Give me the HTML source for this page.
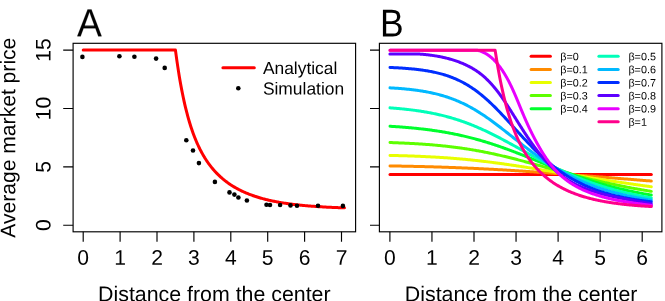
<!DOCTYPE html>
<html><head><meta charset="utf-8"><title>Figure</title>
<style>
html,body{margin:0;padding:0;background:#fff;}
body{width:665px;height:301px;overflow:hidden;font-family:"Liberation Sans",sans-serif;}
svg{display:block;font-family:"Liberation Sans",sans-serif;}
.ax{stroke:#000;stroke-width:1.15;fill:none;stroke-linecap:butt}
.cv path{fill:none;stroke-width:3.0;stroke-linecap:round;stroke-linejoin:round}
.lg line{stroke-width:3.0;stroke-linecap:round}
text{fill:#000}
</style></head><body>
<svg width="665" height="301" viewBox="0 0 665 301">
<rect x="0" y="0" width="665" height="301" fill="#fff"/>
<g id="panelA">
<rect class="ax" x="73.1" y="43.3" width="282.5" height="188.5"/>
<path class="ax" d="M83.20,231.8V241.7M120.10,231.8V241.7M157.00,231.8V241.7M193.90,231.8V241.7M230.80,231.8V241.7M267.70,231.8V241.7M304.60,231.8V241.7M341.50,231.8V241.7M73.1,225.20H63.2M73.1,166.83H63.2M73.1,108.47H63.2M73.1,50.10H63.2"/>
<g class="cv"><path d="M83.20,50.10 L175.45,50.10 L176.22,55.90 L176.99,61.41 L177.77,66.65 L178.54,71.64 L179.31,76.40 L180.08,80.92 L180.85,85.24 L181.62,89.36 L182.40,93.29 L183.17,97.04 L183.94,100.62 L184.71,104.05 L185.48,107.32 L186.25,110.45 L187.03,113.45 L187.80,116.33 L188.57,119.08 L189.34,121.72 L190.11,124.25 L190.88,126.68 L191.66,129.02 L192.43,131.26 L193.20,133.41 L193.97,135.49 L194.74,137.48 L195.51,139.40 L196.29,141.25 L197.06,143.04 L197.83,144.76 L198.60,146.42 L199.37,148.02 L200.14,149.56 L200.92,151.06 L201.69,152.50 L202.46,153.90 L203.23,155.25 L204.00,156.55 L204.77,157.82 L205.55,159.04 L206.32,160.23 L207.09,161.38 L207.86,162.50 L208.63,163.58 L209.40,164.63 L210.18,165.65 L210.95,166.65 L211.72,167.61 L212.49,168.54 L213.26,169.45 L214.03,170.34 L214.81,171.20 L215.58,172.04 L216.35,172.85 L217.12,173.64 L217.89,174.42 L218.67,175.17 L219.44,175.90 L220.21,176.62 L220.98,177.31 L221.75,177.99 L222.52,178.66 L223.30,179.30 L224.07,179.93 L224.84,180.55 L225.61,181.15 L226.38,181.73 L227.15,182.31 L227.93,182.87 L228.70,183.41 L229.47,183.94 L230.24,184.47 L231.01,184.97 L231.78,185.47 L232.56,185.96 L233.33,186.43 L234.10,186.90 L234.87,187.35 L235.64,187.80 L236.41,188.23 L237.19,188.66 L237.96,189.07 L238.73,189.48 L239.50,189.88 L240.27,190.27 L241.04,190.65 L241.82,191.02 L242.59,191.38 L243.36,191.74 L244.13,192.09 L244.90,192.43 L245.67,192.77 L246.45,193.10 L247.22,193.42 L247.99,193.73 L248.76,194.04 L249.53,194.34 L250.30,194.64 L251.08,194.93 L251.85,195.21 L252.62,195.49 L253.39,195.76 L254.16,196.02 L254.93,196.29 L255.71,196.54 L256.48,196.79 L257.25,197.04 L258.02,197.28 L258.79,197.51 L259.57,197.74 L260.34,197.97 L261.11,198.19 L261.88,198.41 L262.65,198.62 L263.42,198.83 L264.20,199.03 L264.97,199.23 L265.74,199.43 L266.51,199.62 L267.28,199.81 L268.05,199.99 L268.83,200.17 L269.60,200.35 L270.37,200.52 L271.14,200.69 L271.91,200.86 L272.68,201.02 L273.46,201.18 L274.23,201.34 L275.00,201.49 L275.77,201.64 L276.54,201.79 L277.31,201.94 L278.09,202.08 L278.86,202.22 L279.63,202.36 L280.40,202.49 L281.17,202.62 L281.94,202.75 L282.72,202.87 L283.49,203.00 L284.26,203.12 L285.03,203.24 L285.80,203.35 L286.57,203.47 L287.35,203.58 L288.12,203.69 L288.89,203.80 L289.66,203.90 L290.43,204.01 L291.20,204.11 L291.98,204.21 L292.75,204.30 L293.52,204.40 L294.29,204.49 L295.06,204.58 L295.83,204.67 L296.61,204.76 L297.38,204.85 L298.15,204.93 L298.92,205.01 L299.69,205.10 L300.47,205.18 L301.24,205.25 L302.01,205.33 L302.78,205.41 L303.55,205.48 L304.32,205.55 L305.10,205.62 L305.87,205.69 L306.64,205.76 L307.41,205.83 L308.18,205.89 L308.95,205.96 L309.73,206.02 L310.50,206.08 L311.27,206.14 L312.04,206.20 L312.81,206.26 L313.58,206.31 L314.36,206.37 L315.13,206.43 L315.90,206.48 L316.67,206.53 L317.44,206.58 L318.21,206.63 L318.99,206.68 L319.76,206.73 L320.53,206.78 L321.30,206.83 L322.07,206.87 L322.84,206.92 L323.62,206.96 L324.39,207.00 L325.16,207.05 L325.93,207.09 L326.70,207.13 L327.47,207.17 L328.25,207.21 L329.02,207.25 L329.79,207.28 L330.56,207.32 L331.33,207.36 L332.10,207.39 L332.88,207.43 L333.65,207.46 L334.42,207.49 L335.19,207.53 L335.96,207.56 L336.74,207.59 L337.51,207.62 L338.28,207.65 L339.05,207.68 L339.82,207.71 L340.59,207.74 L341.37,207.76 L342.14,207.79 L342.91,207.82 L343.68,207.85 L344.45,207.87" stroke="#FF0000"/></g>
<g fill="#000"><circle cx="82.4" cy="56.9" r="2.3"/><circle cx="119.4" cy="56.3" r="2.3"/><circle cx="134.4" cy="56.7" r="2.3"/><circle cx="156.1" cy="58.6" r="2.3"/><circle cx="164.7" cy="67.9" r="2.3"/><circle cx="186.3" cy="140.2" r="2.3"/><circle cx="193" cy="150.5" r="2.3"/><circle cx="198.9" cy="163.1" r="2.3"/><circle cx="214.9" cy="181.9" r="2.3"/><circle cx="229.5" cy="192.4" r="2.3"/><circle cx="234.4" cy="194.6" r="2.3"/><circle cx="238.4" cy="197.5" r="2.3"/><circle cx="246.9" cy="200.5" r="2.3"/><circle cx="266.5" cy="204.7" r="2.3"/><circle cx="270" cy="205" r="2.3"/><circle cx="280.1" cy="205" r="2.3"/><circle cx="290.5" cy="205.4" r="2.3"/><circle cx="297" cy="205.8" r="2.3"/><circle cx="318" cy="205.8" r="2.3"/><circle cx="342.9" cy="205.9" r="2.3"/></g>
<g class="lg"><line x1="222.9" y1="67.8" x2="254.3" y2="67.8" stroke="#FF0000"/></g>
<circle cx="238.3" cy="88.3" r="2.3" fill="#000"/>
</g>
<g id="panelB">
<rect class="ax" x="379.4" y="43.3" width="282.5" height="188.5"/>
<path class="ax" d="M389.90,231.8V241.7M431.95,231.8V241.7M474.00,231.8V241.7M516.05,231.8V241.7M558.10,231.8V241.7M600.15,231.8V241.7M642.20,231.8V241.7M379.4,225.20H370M379.4,166.83H370M379.4,108.47H370M379.4,50.10H370"/>
<g class="cv"><path d="M390.00,174.50 L651.30,174.50" stroke="#FF0000"/>
<path d="M390.00,165.94 L391.00,165.95 L392.00,165.97 L393.00,165.98 L394.00,166.00 L395.01,166.02 L396.01,166.03 L397.01,166.05 L398.01,166.07 L399.01,166.09 L400.01,166.10 L401.01,166.12 L402.01,166.14 L403.01,166.16 L404.02,166.18 L405.02,166.20 L406.02,166.22 L407.02,166.24 L408.02,166.26 L409.02,166.28 L410.02,166.30 L411.02,166.32 L412.03,166.34 L413.03,166.36 L414.03,166.38 L415.03,166.41 L416.03,166.43 L417.03,166.45 L418.03,166.48 L419.03,166.50 L420.03,166.52 L421.04,166.55 L422.04,166.57 L423.04,166.60 L424.04,166.62 L425.04,166.65 L426.04,166.67 L427.04,166.70 L428.04,166.73 L429.04,166.75 L430.05,166.78 L431.05,166.81 L432.05,166.84 L433.05,166.87 L434.05,166.90 L435.05,166.93 L436.05,166.96 L437.05,166.99 L438.06,167.02 L439.06,167.05 L440.06,167.08 L441.06,167.11 L442.06,167.14 L443.06,167.18 L444.06,167.21 L445.06,167.24 L446.06,167.28 L447.07,167.31 L448.07,167.35 L449.07,167.38 L450.07,167.42 L451.07,167.45 L452.07,167.49 L453.07,167.53 L454.07,167.56 L455.07,167.60 L456.08,167.64 L457.08,167.68 L458.08,167.72 L459.08,167.76 L460.08,167.79 L461.08,167.84 L462.08,167.88 L463.08,167.92 L464.09,167.96 L465.09,168.00 L466.09,168.04 L467.09,168.09 L468.09,168.13 L469.09,168.17 L470.09,168.22 L471.09,168.26 L472.09,168.31 L473.10,168.35 L474.10,168.40 L475.10,168.45 L476.10,168.49 L477.10,168.54 L478.10,168.59 L479.10,168.64 L480.10,168.68 L481.10,168.73 L482.11,168.78 L483.11,168.83 L484.11,168.88 L485.11,168.94 L486.11,168.99 L487.11,169.04 L488.11,169.09 L489.11,169.14 L490.11,169.20 L491.12,169.25 L492.12,169.30 L493.12,169.36 L494.12,169.41 L495.12,169.47 L496.12,169.52 L497.12,169.58 L498.12,169.64 L499.13,169.69 L500.13,169.75 L501.13,169.81 L502.13,169.87 L503.13,169.93 L504.13,169.99 L505.13,170.05 L506.13,170.10 L507.13,170.17 L508.14,170.23 L509.14,170.29 L510.14,170.35 L511.14,170.41 L512.14,170.47 L513.14,170.53 L514.14,170.60 L515.14,170.66 L516.14,170.72 L517.15,170.79 L518.15,170.85 L519.15,170.92 L520.15,170.98 L521.15,171.05 L522.15,171.11 L523.15,171.18 L524.15,171.25 L525.16,171.31 L526.16,171.38 L527.16,171.45 L528.16,171.52 L529.16,171.58 L530.16,171.65 L531.16,171.72 L532.16,171.79 L533.16,171.86 L534.17,171.93 L535.17,172.00 L536.17,172.07 L537.17,172.14 L538.17,172.21 L539.17,172.28 L540.17,172.35 L541.17,172.43 L542.17,172.50 L543.18,172.57 L544.18,172.64 L545.18,172.71 L546.18,172.79 L547.18,172.86 L548.18,172.93 L549.18,173.01 L550.18,173.08 L551.19,173.15 L552.19,173.23 L553.19,173.30 L554.19,173.38 L555.19,173.45 L556.19,173.53 L557.19,173.60 L558.19,173.68 L559.19,173.75 L560.20,173.83 L561.20,173.91 L562.20,173.98 L563.20,174.06 L564.20,174.14 L565.20,174.21 L566.20,174.29 L567.20,174.37 L568.20,174.44 L569.21,174.52 L570.21,174.60 L571.21,174.67 L572.21,174.75 L573.21,174.83 L574.21,174.91 L575.21,174.99 L576.21,175.06 L577.21,175.14 L578.22,175.22 L579.22,175.30 L580.22,175.38 L581.22,175.46 L582.22,175.54 L583.22,175.61 L584.22,175.69 L585.22,175.77 L586.23,175.85 L587.23,175.93 L588.23,176.01 L589.23,176.09 L590.23,176.17 L591.23,176.25 L592.23,176.33 L593.23,176.41 L594.23,176.49 L595.24,176.57 L596.24,176.65 L597.24,176.73 L598.24,176.81 L599.24,176.89 L600.24,176.96 L601.24,177.04 L602.24,177.12 L603.24,177.20 L604.25,177.28 L605.25,177.36 L606.25,177.44 L607.25,177.52 L608.25,177.60 L609.25,177.68 L610.25,177.76 L611.25,177.84 L612.26,177.92 L613.26,178.00 L614.26,178.08 L615.26,178.16 L616.26,178.24 L617.26,178.32 L618.26,178.40 L619.26,178.48 L620.26,178.56 L621.27,178.64 L622.27,178.72 L623.27,178.80 L624.27,178.88 L625.27,178.96 L626.27,179.04 L627.27,179.12 L628.27,179.20 L629.27,179.28 L630.28,179.36 L631.28,179.44 L632.28,179.52 L633.28,179.60 L634.28,179.68 L635.28,179.76 L636.28,179.84 L637.28,179.92 L638.29,180.00 L639.29,180.08 L640.29,180.16 L641.29,180.23 L642.29,180.31 L643.29,180.39 L644.29,180.47 L645.29,180.55 L646.29,180.63 L647.30,180.71 L648.30,180.79 L649.30,180.86 L650.30,180.94 L651.30,181.02" stroke="#FF8B00"/>
<path d="M390.00,155.41 L391.00,155.43 L392.00,155.45 L393.00,155.47 L394.00,155.50 L395.01,155.52 L396.01,155.55 L397.01,155.57 L398.01,155.60 L399.01,155.63 L400.01,155.65 L401.01,155.68 L402.01,155.71 L403.01,155.74 L404.02,155.77 L405.02,155.80 L406.02,155.83 L407.02,155.87 L408.02,155.90 L409.02,155.93 L410.02,155.97 L411.02,156.00 L412.03,156.04 L413.03,156.07 L414.03,156.11 L415.03,156.15 L416.03,156.19 L417.03,156.23 L418.03,156.27 L419.03,156.31 L420.03,156.35 L421.04,156.40 L422.04,156.44 L423.04,156.48 L424.04,156.53 L425.04,156.58 L426.04,156.63 L427.04,156.67 L428.04,156.72 L429.04,156.77 L430.05,156.83 L431.05,156.88 L432.05,156.93 L433.05,156.99 L434.05,157.04 L435.05,157.10 L436.05,157.16 L437.05,157.22 L438.06,157.28 L439.06,157.34 L440.06,157.40 L441.06,157.47 L442.06,157.53 L443.06,157.60 L444.06,157.66 L445.06,157.73 L446.06,157.80 L447.07,157.87 L448.07,157.94 L449.07,158.02 L450.07,158.09 L451.07,158.17 L452.07,158.24 L453.07,158.32 L454.07,158.40 L455.07,158.48 L456.08,158.56 L457.08,158.65 L458.08,158.73 L459.08,158.82 L460.08,158.91 L461.08,158.99 L462.08,159.08 L463.08,159.17 L464.09,159.27 L465.09,159.36 L466.09,159.46 L467.09,159.55 L468.09,159.65 L469.09,159.75 L470.09,159.85 L471.09,159.95 L472.09,160.05 L473.10,160.16 L474.10,160.26 L475.10,160.37 L476.10,160.48 L477.10,160.59 L478.10,160.70 L479.10,160.81 L480.10,160.92 L481.10,161.04 L482.11,161.15 L483.11,161.27 L484.11,161.39 L485.11,161.51 L486.11,161.63 L487.11,161.75 L488.11,161.87 L489.11,162.00 L490.11,162.12 L491.12,162.25 L492.12,162.38 L493.12,162.51 L494.12,162.64 L495.12,162.77 L496.12,162.90 L497.12,163.03 L498.12,163.17 L499.13,163.30 L500.13,163.44 L501.13,163.58 L502.13,163.72 L503.13,163.86 L504.13,164.00 L505.13,164.14 L506.13,164.28 L507.13,164.42 L508.14,164.57 L509.14,164.71 L510.14,164.86 L511.14,165.01 L512.14,165.15 L513.14,165.30 L514.14,165.45 L515.14,165.60 L516.14,165.75 L517.15,165.90 L518.15,166.06 L519.15,166.21 L520.15,166.36 L521.15,166.52 L522.15,166.67 L523.15,166.83 L524.15,166.98 L525.16,167.14 L526.16,167.30 L527.16,167.45 L528.16,167.61 L529.16,167.77 L530.16,167.93 L531.16,168.09 L532.16,168.25 L533.16,168.41 L534.17,168.57 L535.17,168.73 L536.17,168.89 L537.17,169.06 L538.17,169.22 L539.17,169.38 L540.17,169.54 L541.17,169.71 L542.17,169.87 L543.18,170.03 L544.18,170.20 L545.18,170.36 L546.18,170.53 L547.18,170.69 L548.18,170.85 L549.18,171.02 L550.18,171.18 L551.19,171.35 L552.19,171.51 L553.19,171.68 L554.19,171.84 L555.19,172.01 L556.19,172.17 L557.19,172.34 L558.19,172.50 L559.19,172.67 L560.20,172.83 L561.20,173.00 L562.20,173.16 L563.20,173.33 L564.20,173.49 L565.20,173.66 L566.20,173.82 L567.20,173.99 L568.20,174.15 L569.21,174.32 L570.21,174.48 L571.21,174.65 L572.21,174.81 L573.21,174.97 L574.21,175.14 L575.21,175.30 L576.21,175.46 L577.21,175.63 L578.22,175.79 L579.22,175.95 L580.22,176.11 L581.22,176.28 L582.22,176.44 L583.22,176.60 L584.22,176.76 L585.22,176.92 L586.23,177.08 L587.23,177.24 L588.23,177.40 L589.23,177.56 L590.23,177.72 L591.23,177.88 L592.23,178.04 L593.23,178.20 L594.23,178.36 L595.24,178.52 L596.24,178.68 L597.24,178.83 L598.24,178.99 L599.24,179.15 L600.24,179.30 L601.24,179.46 L602.24,179.61 L603.24,179.77 L604.25,179.92 L605.25,180.08 L606.25,180.23 L607.25,180.39 L608.25,180.54 L609.25,180.69 L610.25,180.85 L611.25,181.00 L612.26,181.15 L613.26,181.30 L614.26,181.45 L615.26,181.60 L616.26,181.75 L617.26,181.90 L618.26,182.05 L619.26,182.20 L620.26,182.35 L621.27,182.50 L622.27,182.65 L623.27,182.80 L624.27,182.94 L625.27,183.09 L626.27,183.24 L627.27,183.38 L628.27,183.53 L629.27,183.67 L630.28,183.82 L631.28,183.96 L632.28,184.10 L633.28,184.25 L634.28,184.39 L635.28,184.53 L636.28,184.67 L637.28,184.81 L638.29,184.96 L639.29,185.10 L640.29,185.24 L641.29,185.38 L642.29,185.52 L643.29,185.65 L644.29,185.79 L645.29,185.93 L646.29,186.07 L647.30,186.21 L648.30,186.34 L649.30,186.48 L650.30,186.62 L651.30,186.75" stroke="#E8FF00"/>
<path d="M390.00,142.54 L391.00,142.58 L392.00,142.61 L393.00,142.65 L394.00,142.68 L395.01,142.72 L396.01,142.76 L397.01,142.80 L398.01,142.84 L399.01,142.88 L400.01,142.92 L401.01,142.96 L402.01,143.01 L403.01,143.05 L404.02,143.10 L405.02,143.14 L406.02,143.19 L407.02,143.24 L408.02,143.29 L409.02,143.34 L410.02,143.39 L411.02,143.44 L412.03,143.50 L413.03,143.55 L414.03,143.61 L415.03,143.67 L416.03,143.73 L417.03,143.79 L418.03,143.85 L419.03,143.91 L420.03,143.98 L421.04,144.04 L422.04,144.11 L423.04,144.18 L424.04,144.25 L425.04,144.32 L426.04,144.40 L427.04,144.47 L428.04,144.55 L429.04,144.62 L430.05,144.70 L431.05,144.79 L432.05,144.87 L433.05,144.95 L434.05,145.04 L435.05,145.13 L436.05,145.22 L437.05,145.31 L438.06,145.40 L439.06,145.50 L440.06,145.59 L441.06,145.69 L442.06,145.79 L443.06,145.89 L444.06,146.00 L445.06,146.10 L446.06,146.21 L447.07,146.32 L448.07,146.43 L449.07,146.55 L450.07,146.67 L451.07,146.78 L452.07,146.90 L453.07,147.03 L454.07,147.15 L455.07,147.28 L456.08,147.41 L457.08,147.54 L458.08,147.67 L459.08,147.81 L460.08,147.95 L461.08,148.09 L462.08,148.23 L463.08,148.38 L464.09,148.52 L465.09,148.67 L466.09,148.83 L467.09,148.98 L468.09,149.14 L469.09,149.30 L470.09,149.46 L471.09,149.62 L472.09,149.79 L473.10,149.96 L474.10,150.13 L475.10,150.30 L476.10,150.48 L477.10,150.65 L478.10,150.83 L479.10,151.02 L480.10,151.20 L481.10,151.39 L482.11,151.58 L483.11,151.77 L484.11,151.97 L485.11,152.16 L486.11,152.36 L487.11,152.56 L488.11,152.77 L489.11,152.97 L490.11,153.18 L491.12,153.39 L492.12,153.61 L493.12,153.82 L494.12,154.04 L495.12,154.26 L496.12,154.48 L497.12,154.70 L498.12,154.93 L499.13,155.16 L500.13,155.39 L501.13,155.62 L502.13,155.85 L503.13,156.09 L504.13,156.33 L505.13,156.57 L506.13,156.81 L507.13,157.05 L508.14,157.30 L509.14,157.54 L510.14,157.79 L511.14,158.04 L512.14,158.29 L513.14,158.55 L514.14,158.80 L515.14,159.06 L516.14,159.31 L517.15,159.57 L518.15,159.83 L519.15,160.10 L520.15,160.36 L521.15,160.62 L522.15,160.89 L523.15,161.15 L524.15,161.42 L525.16,161.69 L526.16,161.96 L527.16,162.23 L528.16,162.50 L529.16,162.77 L530.16,163.04 L531.16,163.32 L532.16,163.59 L533.16,163.86 L534.17,164.14 L535.17,164.41 L536.17,164.69 L537.17,164.97 L538.17,165.24 L539.17,165.52 L540.17,165.80 L541.17,166.07 L542.17,166.35 L543.18,166.63 L544.18,166.91 L545.18,167.19 L546.18,167.46 L547.18,167.74 L548.18,168.02 L549.18,168.30 L550.18,168.57 L551.19,168.85 L552.19,169.13 L553.19,169.40 L554.19,169.68 L555.19,169.96 L556.19,170.23 L557.19,170.51 L558.19,170.78 L559.19,171.06 L560.20,171.33 L561.20,171.60 L562.20,171.87 L563.20,172.14 L564.20,172.42 L565.20,172.69 L566.20,172.95 L567.20,173.22 L568.20,173.49 L569.21,173.76 L570.21,174.02 L571.21,174.29 L572.21,174.55 L573.21,174.81 L574.21,175.08 L575.21,175.34 L576.21,175.60 L577.21,175.86 L578.22,176.11 L579.22,176.37 L580.22,176.63 L581.22,176.88 L582.22,177.13 L583.22,177.39 L584.22,177.64 L585.22,177.89 L586.23,178.13 L587.23,178.38 L588.23,178.63 L589.23,178.87 L590.23,179.12 L591.23,179.36 L592.23,179.60 L593.23,179.84 L594.23,180.08 L595.24,180.31 L596.24,180.55 L597.24,180.78 L598.24,181.02 L599.24,181.25 L600.24,181.48 L601.24,181.71 L602.24,181.93 L603.24,182.16 L604.25,182.38 L605.25,182.61 L606.25,182.83 L607.25,183.05 L608.25,183.27 L609.25,183.48 L610.25,183.70 L611.25,183.92 L612.26,184.13 L613.26,184.34 L614.26,184.55 L615.26,184.76 L616.26,184.97 L617.26,185.17 L618.26,185.38 L619.26,185.58 L620.26,185.78 L621.27,185.98 L622.27,186.18 L623.27,186.38 L624.27,186.58 L625.27,186.77 L626.27,186.97 L627.27,187.16 L628.27,187.35 L629.27,187.54 L630.28,187.73 L631.28,187.91 L632.28,188.10 L633.28,188.28 L634.28,188.46 L635.28,188.64 L636.28,188.82 L637.28,189.00 L638.29,189.18 L639.29,189.35 L640.29,189.53 L641.29,189.70 L642.29,189.87 L643.29,190.04 L644.29,190.21 L645.29,190.38 L646.29,190.55 L647.30,190.71 L648.30,190.88 L649.30,191.04 L650.30,191.20 L651.30,191.36" stroke="#5DFF00"/>
<path d="M390.00,126.25 L391.00,126.31 L392.00,126.38 L393.00,126.44 L394.00,126.51 L395.01,126.57 L396.01,126.64 L397.01,126.71 L398.01,126.78 L399.01,126.85 L400.01,126.93 L401.01,127.00 L402.01,127.08 L403.01,127.16 L404.02,127.24 L405.02,127.32 L406.02,127.40 L407.02,127.49 L408.02,127.57 L409.02,127.66 L410.02,127.75 L411.02,127.84 L412.03,127.94 L413.03,128.03 L414.03,128.13 L415.03,128.23 L416.03,128.33 L417.03,128.43 L418.03,128.54 L419.03,128.65 L420.03,128.76 L421.04,128.87 L422.04,128.98 L423.04,129.10 L424.04,129.22 L425.04,129.34 L426.04,129.46 L427.04,129.59 L428.04,129.71 L429.04,129.84 L430.05,129.98 L431.05,130.11 L432.05,130.25 L433.05,130.39 L434.05,130.53 L435.05,130.67 L436.05,130.82 L437.05,130.97 L438.06,131.13 L439.06,131.28 L440.06,131.44 L441.06,131.60 L442.06,131.76 L443.06,131.93 L444.06,132.10 L445.06,132.27 L446.06,132.45 L447.07,132.63 L448.07,132.81 L449.07,132.99 L450.07,133.18 L451.07,133.37 L452.07,133.56 L453.07,133.76 L454.07,133.96 L455.07,134.16 L456.08,134.37 L457.08,134.58 L458.08,134.79 L459.08,135.01 L460.08,135.23 L461.08,135.45 L462.08,135.68 L463.08,135.90 L464.09,136.14 L465.09,136.37 L466.09,136.61 L467.09,136.85 L468.09,137.10 L469.09,137.35 L470.09,137.60 L471.09,137.86 L472.09,138.12 L473.10,138.38 L474.10,138.64 L475.10,138.91 L476.10,139.19 L477.10,139.46 L478.10,139.74 L479.10,140.02 L480.10,140.31 L481.10,140.60 L482.11,140.89 L483.11,141.19 L484.11,141.49 L485.11,141.79 L486.11,142.10 L487.11,142.40 L488.11,142.72 L489.11,143.03 L490.11,143.35 L491.12,143.67 L492.12,144.00 L493.12,144.32 L494.12,144.66 L495.12,144.99 L496.12,145.33 L497.12,145.67 L498.12,146.01 L499.13,146.35 L500.13,146.70 L501.13,147.05 L502.13,147.40 L503.13,147.76 L504.13,148.12 L505.13,148.48 L506.13,148.84 L507.13,149.21 L508.14,149.58 L509.14,149.95 L510.14,150.32 L511.14,150.69 L512.14,151.07 L513.14,151.45 L514.14,151.83 L515.14,152.21 L516.14,152.59 L517.15,152.98 L518.15,153.37 L519.15,153.75 L520.15,154.14 L521.15,154.54 L522.15,154.93 L523.15,155.32 L524.15,155.72 L525.16,156.11 L526.16,156.51 L527.16,156.91 L528.16,157.31 L529.16,157.71 L530.16,158.11 L531.16,158.51 L532.16,158.91 L533.16,159.31 L534.17,159.71 L535.17,160.11 L536.17,160.52 L537.17,160.92 L538.17,161.32 L539.17,161.72 L540.17,162.13 L541.17,162.53 L542.17,162.93 L543.18,163.33 L544.18,163.73 L545.18,164.13 L546.18,164.53 L547.18,164.93 L548.18,165.33 L549.18,165.73 L550.18,166.12 L551.19,166.52 L552.19,166.91 L553.19,167.31 L554.19,167.70 L555.19,168.09 L556.19,168.48 L557.19,168.87 L558.19,169.26 L559.19,169.64 L560.20,170.02 L561.20,170.41 L562.20,170.79 L563.20,171.17 L564.20,171.54 L565.20,171.92 L566.20,172.29 L567.20,172.66 L568.20,173.03 L569.21,173.40 L570.21,173.77 L571.21,174.13 L572.21,174.49 L573.21,174.85 L574.21,175.21 L575.21,175.56 L576.21,175.91 L577.21,176.26 L578.22,176.61 L579.22,176.96 L580.22,177.30 L581.22,177.64 L582.22,177.98 L583.22,178.32 L584.22,178.65 L585.22,178.98 L586.23,179.31 L587.23,179.63 L588.23,179.96 L589.23,180.28 L590.23,180.59 L591.23,180.91 L592.23,181.22 L593.23,181.53 L594.23,181.84 L595.24,182.14 L596.24,182.44 L597.24,182.74 L598.24,183.04 L599.24,183.33 L600.24,183.63 L601.24,183.91 L602.24,184.20 L603.24,184.48 L604.25,184.76 L605.25,185.04 L606.25,185.32 L607.25,185.59 L608.25,185.86 L609.25,186.12 L610.25,186.39 L611.25,186.65 L612.26,186.91 L613.26,187.17 L614.26,187.42 L615.26,187.67 L616.26,187.92 L617.26,188.16 L618.26,188.41 L619.26,188.65 L620.26,188.89 L621.27,189.12 L622.27,189.35 L623.27,189.58 L624.27,189.81 L625.27,190.04 L626.27,190.26 L627.27,190.48 L628.27,190.70 L629.27,190.91 L630.28,191.13 L631.28,191.34 L632.28,191.55 L633.28,191.75 L634.28,191.96 L635.28,192.16 L636.28,192.35 L637.28,192.55 L638.29,192.75 L639.29,192.94 L640.29,193.13 L641.29,193.31 L642.29,193.50 L643.29,193.68 L644.29,193.86 L645.29,194.04 L646.29,194.22 L647.30,194.39 L648.30,194.56 L649.30,194.73 L650.30,194.90 L651.30,195.07" stroke="#00FF2E"/>
<path d="M390.00,107.85 L391.00,107.92 L392.00,108.00 L393.00,108.08 L394.00,108.16 L395.01,108.24 L396.01,108.32 L397.01,108.41 L398.01,108.50 L399.01,108.59 L400.01,108.68 L401.01,108.78 L402.01,108.87 L403.01,108.97 L404.02,109.08 L405.02,109.18 L406.02,109.29 L407.02,109.40 L408.02,109.51 L409.02,109.63 L410.02,109.75 L411.02,109.87 L412.03,109.99 L413.03,110.12 L414.03,110.25 L415.03,110.38 L416.03,110.52 L417.03,110.66 L418.03,110.80 L419.03,110.95 L420.03,111.10 L421.04,111.25 L422.04,111.41 L423.04,111.57 L424.04,111.74 L425.04,111.90 L426.04,112.08 L427.04,112.25 L428.04,112.43 L429.04,112.62 L430.05,112.80 L431.05,113.00 L432.05,113.19 L433.05,113.39 L434.05,113.60 L435.05,113.81 L436.05,114.02 L437.05,114.24 L438.06,114.46 L439.06,114.69 L440.06,114.92 L441.06,115.16 L442.06,115.40 L443.06,115.65 L444.06,115.90 L445.06,116.15 L446.06,116.41 L447.07,116.68 L448.07,116.95 L449.07,117.23 L450.07,117.51 L451.07,117.80 L452.07,118.09 L453.07,118.39 L454.07,118.69 L455.07,119.00 L456.08,119.31 L457.08,119.63 L458.08,119.95 L459.08,120.28 L460.08,120.62 L461.08,120.96 L462.08,121.30 L463.08,121.65 L464.09,122.01 L465.09,122.37 L466.09,122.74 L467.09,123.11 L468.09,123.49 L469.09,123.88 L470.09,124.27 L471.09,124.66 L472.09,125.06 L473.10,125.47 L474.10,125.88 L475.10,126.29 L476.10,126.71 L477.10,127.14 L478.10,127.57 L479.10,128.01 L480.10,128.45 L481.10,128.90 L482.11,129.35 L483.11,129.80 L484.11,130.26 L485.11,130.73 L486.11,131.20 L487.11,131.67 L488.11,132.15 L489.11,132.64 L490.11,133.12 L491.12,133.61 L492.12,134.11 L493.12,134.61 L494.12,135.11 L495.12,135.62 L496.12,136.13 L497.12,136.64 L498.12,137.16 L499.13,137.68 L500.13,138.20 L501.13,138.72 L502.13,139.25 L503.13,139.78 L504.13,140.32 L505.13,140.85 L506.13,141.39 L507.13,141.93 L508.14,142.47 L509.14,143.02 L510.14,143.56 L511.14,144.11 L512.14,144.65 L513.14,145.20 L514.14,145.75 L515.14,146.30 L516.14,146.86 L517.15,147.41 L518.15,147.96 L519.15,148.51 L520.15,149.07 L521.15,149.62 L522.15,150.17 L523.15,150.73 L524.15,151.28 L525.16,151.83 L526.16,152.38 L527.16,152.94 L528.16,153.49 L529.16,154.03 L530.16,154.58 L531.16,155.13 L532.16,155.67 L533.16,156.22 L534.17,156.76 L535.17,157.30 L536.17,157.84 L537.17,158.38 L538.17,158.91 L539.17,159.44 L540.17,159.97 L541.17,160.50 L542.17,161.03 L543.18,161.55 L544.18,162.07 L545.18,162.59 L546.18,163.11 L547.18,163.62 L548.18,164.13 L549.18,164.63 L550.18,165.14 L551.19,165.64 L552.19,166.14 L553.19,166.63 L554.19,167.12 L555.19,167.61 L556.19,168.09 L557.19,168.58 L558.19,169.05 L559.19,169.53 L560.20,170.00 L561.20,170.46 L562.20,170.93 L563.20,171.39 L564.20,171.84 L565.20,172.30 L566.20,172.74 L567.20,173.19 L568.20,173.63 L569.21,174.07 L570.21,174.50 L571.21,174.93 L572.21,175.36 L573.21,175.78 L574.21,176.20 L575.21,176.61 L576.21,177.02 L577.21,177.43 L578.22,177.83 L579.22,178.23 L580.22,178.63 L581.22,179.02 L582.22,179.41 L583.22,179.79 L584.22,180.17 L585.22,180.54 L586.23,180.92 L587.23,181.28 L588.23,181.65 L589.23,182.01 L590.23,182.37 L591.23,182.72 L592.23,183.07 L593.23,183.42 L594.23,183.76 L595.24,184.10 L596.24,184.43 L597.24,184.76 L598.24,185.09 L599.24,185.41 L600.24,185.73 L601.24,186.05 L602.24,186.36 L603.24,186.67 L604.25,186.98 L605.25,187.28 L606.25,187.58 L607.25,187.87 L608.25,188.17 L609.25,188.46 L610.25,188.74 L611.25,189.02 L612.26,189.30 L613.26,189.58 L614.26,189.85 L615.26,190.12 L616.26,190.39 L617.26,190.65 L618.26,190.91 L619.26,191.17 L620.26,191.42 L621.27,191.67 L622.27,191.92 L623.27,192.16 L624.27,192.40 L625.27,192.64 L626.27,192.88 L627.27,193.11 L628.27,193.34 L629.27,193.57 L630.28,193.79 L631.28,194.02 L632.28,194.24 L633.28,194.45 L634.28,194.67 L635.28,194.88 L636.28,195.09 L637.28,195.29 L638.29,195.49 L639.29,195.70 L640.29,195.89 L641.29,196.09 L642.29,196.28 L643.29,196.47 L644.29,196.66 L645.29,196.85 L646.29,197.03 L647.30,197.21 L648.30,197.39 L649.30,197.57 L650.30,197.75 L651.30,197.92" stroke="#00FFB9"/>
<path d="M390.00,87.83 L391.00,87.89 L392.00,87.95 L393.00,88.01 L394.00,88.08 L395.01,88.14 L396.01,88.21 L397.01,88.28 L398.01,88.36 L399.01,88.43 L400.01,88.51 L401.01,88.60 L402.01,88.68 L403.01,88.77 L404.02,88.86 L405.02,88.95 L406.02,89.05 L407.02,89.14 L408.02,89.25 L409.02,89.35 L410.02,89.46 L411.02,89.58 L412.03,89.69 L413.03,89.81 L414.03,89.94 L415.03,90.06 L416.03,90.20 L417.03,90.33 L418.03,90.47 L419.03,90.62 L420.03,90.77 L421.04,90.92 L422.04,91.08 L423.04,91.25 L424.04,91.42 L425.04,91.59 L426.04,91.77 L427.04,91.96 L428.04,92.15 L429.04,92.35 L430.05,92.55 L431.05,92.76 L432.05,92.97 L433.05,93.19 L434.05,93.42 L435.05,93.66 L436.05,93.90 L437.05,94.15 L438.06,94.40 L439.06,94.66 L440.06,94.93 L441.06,95.21 L442.06,95.50 L443.06,95.79 L444.06,96.09 L445.06,96.40 L446.06,96.72 L447.07,97.04 L448.07,97.38 L449.07,97.72 L450.07,98.07 L451.07,98.43 L452.07,98.80 L453.07,99.17 L454.07,99.56 L455.07,99.96 L456.08,100.36 L457.08,100.78 L458.08,101.20 L459.08,101.64 L460.08,102.08 L461.08,102.53 L462.08,103.00 L463.08,103.47 L464.09,103.95 L465.09,104.44 L466.09,104.95 L467.09,105.46 L468.09,105.98 L469.09,106.51 L470.09,107.05 L471.09,107.60 L472.09,108.17 L473.10,108.74 L474.10,109.32 L475.10,109.91 L476.10,110.51 L477.10,111.11 L478.10,111.73 L479.10,112.36 L480.10,112.99 L481.10,113.64 L482.11,114.29 L483.11,114.95 L484.11,115.62 L485.11,116.30 L486.11,116.99 L487.11,117.68 L488.11,118.38 L489.11,119.09 L490.11,119.80 L491.12,120.52 L492.12,121.25 L493.12,121.98 L494.12,122.72 L495.12,123.47 L496.12,124.22 L497.12,124.97 L498.12,125.73 L499.13,126.50 L500.13,127.27 L501.13,128.04 L502.13,128.82 L503.13,129.59 L504.13,130.38 L505.13,131.16 L506.13,131.95 L507.13,132.74 L508.14,133.53 L509.14,134.32 L510.14,135.11 L511.14,135.90 L512.14,136.69 L513.14,137.49 L514.14,138.28 L515.14,139.07 L516.14,139.86 L517.15,140.65 L518.15,141.44 L519.15,142.23 L520.15,143.01 L521.15,143.79 L522.15,144.57 L523.15,145.35 L524.15,146.12 L525.16,146.90 L526.16,147.66 L527.16,148.43 L528.16,149.19 L529.16,149.94 L530.16,150.69 L531.16,151.44 L532.16,152.18 L533.16,152.92 L534.17,153.65 L535.17,154.38 L536.17,155.11 L537.17,155.82 L538.17,156.53 L539.17,157.24 L540.17,157.94 L541.17,158.63 L542.17,159.32 L543.18,160.00 L544.18,160.68 L545.18,161.35 L546.18,162.01 L547.18,162.67 L548.18,163.32 L549.18,163.97 L550.18,164.60 L551.19,165.24 L552.19,165.86 L553.19,166.48 L554.19,167.09 L555.19,167.69 L556.19,168.29 L557.19,168.88 L558.19,169.47 L559.19,170.05 L560.20,170.62 L561.20,171.18 L562.20,171.74 L563.20,172.29 L564.20,172.84 L565.20,173.37 L566.20,173.91 L567.20,174.43 L568.20,174.95 L569.21,175.46 L570.21,175.96 L571.21,176.46 L572.21,176.96 L573.21,177.44 L574.21,177.92 L575.21,178.39 L576.21,178.86 L577.21,179.32 L578.22,179.78 L579.22,180.22 L580.22,180.67 L581.22,181.10 L582.22,181.53 L583.22,181.96 L584.22,182.38 L585.22,182.79 L586.23,183.20 L587.23,183.60 L588.23,183.99 L589.23,184.38 L590.23,184.77 L591.23,185.15 L592.23,185.52 L593.23,185.89 L594.23,186.25 L595.24,186.61 L596.24,186.96 L597.24,187.31 L598.24,187.66 L599.24,187.99 L600.24,188.33 L601.24,188.65 L602.24,188.98 L603.24,189.30 L604.25,189.61 L605.25,189.92 L606.25,190.22 L607.25,190.52 L608.25,190.82 L609.25,191.11 L610.25,191.40 L611.25,191.68 L612.26,191.96 L613.26,192.23 L614.26,192.50 L615.26,192.77 L616.26,193.03 L617.26,193.29 L618.26,193.55 L619.26,193.80 L620.26,194.04 L621.27,194.29 L622.27,194.53 L623.27,194.76 L624.27,194.99 L625.27,195.22 L626.27,195.45 L627.27,195.67 L628.27,195.89 L629.27,196.10 L630.28,196.32 L631.28,196.53 L632.28,196.73 L633.28,196.93 L634.28,197.13 L635.28,197.33 L636.28,197.52 L637.28,197.71 L638.29,197.90 L639.29,198.08 L640.29,198.27 L641.29,198.45 L642.29,198.62 L643.29,198.80 L644.29,198.97 L645.29,199.13 L646.29,199.30 L647.30,199.46 L648.30,199.62 L649.30,199.78 L650.30,199.94 L651.30,200.09" stroke="#00B9FF"/>
<path d="M390.00,67.46 L391.00,67.50 L392.00,67.55 L393.00,67.60 L394.00,67.64 L395.01,67.69 L396.01,67.74 L397.01,67.80 L398.01,67.85 L399.01,67.91 L400.01,67.97 L401.01,68.03 L402.01,68.10 L403.01,68.17 L404.02,68.24 L405.02,68.31 L406.02,68.39 L407.02,68.46 L408.02,68.55 L409.02,68.63 L410.02,68.72 L411.02,68.81 L412.03,68.90 L413.03,69.00 L414.03,69.10 L415.03,69.21 L416.03,69.32 L417.03,69.43 L418.03,69.55 L419.03,69.68 L420.03,69.80 L421.04,69.94 L422.04,70.07 L423.04,70.21 L424.04,70.36 L425.04,70.52 L426.04,70.67 L427.04,70.84 L428.04,71.01 L429.04,71.19 L430.05,71.37 L431.05,71.56 L432.05,71.76 L433.05,71.96 L434.05,72.17 L435.05,72.39 L436.05,72.61 L437.05,72.85 L438.06,73.09 L439.06,73.34 L440.06,73.60 L441.06,73.87 L442.06,74.15 L443.06,74.43 L444.06,74.73 L445.06,75.03 L446.06,75.35 L447.07,75.68 L448.07,76.02 L449.07,76.36 L450.07,76.72 L451.07,77.09 L452.07,77.48 L453.07,77.87 L454.07,78.28 L455.07,78.70 L456.08,79.13 L457.08,79.58 L458.08,80.04 L459.08,80.51 L460.08,80.99 L461.08,81.49 L462.08,82.01 L463.08,82.54 L464.09,83.08 L465.09,83.64 L466.09,84.21 L467.09,84.80 L468.09,85.40 L469.09,86.02 L470.09,86.65 L471.09,87.30 L472.09,87.96 L473.10,88.64 L474.10,89.34 L475.10,90.05 L476.10,90.78 L477.10,91.52 L478.10,92.28 L479.10,93.06 L480.10,93.85 L481.10,94.65 L482.11,95.47 L483.11,96.31 L484.11,97.16 L485.11,98.02 L486.11,98.90 L487.11,99.80 L488.11,100.71 L489.11,101.63 L490.11,102.56 L491.12,103.51 L492.12,104.47 L493.12,105.45 L494.12,106.43 L495.12,107.43 L496.12,108.43 L497.12,109.45 L498.12,110.48 L499.13,111.51 L500.13,112.56 L501.13,113.61 L502.13,114.67 L503.13,115.74 L504.13,116.81 L505.13,117.89 L506.13,118.98 L507.13,120.07 L508.14,121.16 L509.14,122.26 L510.14,123.36 L511.14,124.46 L512.14,125.56 L513.14,126.67 L514.14,127.77 L515.14,128.88 L516.14,129.98 L517.15,131.08 L518.15,132.18 L519.15,133.28 L520.15,134.38 L521.15,135.47 L522.15,136.55 L523.15,137.64 L524.15,138.71 L525.16,139.78 L526.16,140.85 L527.16,141.91 L528.16,142.96 L529.16,144.00 L530.16,145.04 L531.16,146.07 L532.16,147.09 L533.16,148.10 L534.17,149.10 L535.17,150.09 L536.17,151.07 L537.17,152.04 L538.17,153.01 L539.17,153.96 L540.17,154.90 L541.17,155.83 L542.17,156.75 L543.18,157.65 L544.18,158.55 L545.18,159.44 L546.18,160.31 L547.18,161.17 L548.18,162.02 L549.18,162.86 L550.18,163.69 L551.19,164.50 L552.19,165.31 L553.19,166.10 L554.19,166.88 L555.19,167.64 L556.19,168.40 L557.19,169.14 L558.19,169.88 L559.19,170.60 L560.20,171.31 L561.20,172.00 L562.20,172.69 L563.20,173.36 L564.20,174.03 L565.20,174.68 L566.20,175.32 L567.20,175.95 L568.20,176.57 L569.21,177.18 L570.21,177.77 L571.21,178.36 L572.21,178.94 L573.21,179.50 L574.21,180.06 L575.21,180.60 L576.21,181.14 L577.21,181.66 L578.22,182.18 L579.22,182.69 L580.22,183.18 L581.22,183.67 L582.22,184.15 L583.22,184.62 L584.22,185.08 L585.22,185.53 L586.23,185.97 L587.23,186.40 L588.23,186.83 L589.23,187.25 L590.23,187.66 L591.23,188.06 L592.23,188.45 L593.23,188.84 L594.23,189.21 L595.24,189.58 L596.24,189.95 L597.24,190.30 L598.24,190.65 L599.24,190.99 L600.24,191.33 L601.24,191.66 L602.24,191.98 L603.24,192.30 L604.25,192.60 L605.25,192.91 L606.25,193.20 L607.25,193.49 L608.25,193.78 L609.25,194.06 L610.25,194.33 L611.25,194.60 L612.26,194.86 L613.26,195.12 L614.26,195.37 L615.26,195.62 L616.26,195.86 L617.26,196.09 L618.26,196.33 L619.26,196.55 L620.26,196.78 L621.27,196.99 L622.27,197.21 L623.27,197.41 L624.27,197.62 L625.27,197.82 L626.27,198.02 L627.27,198.21 L628.27,198.40 L629.27,198.58 L630.28,198.76 L631.28,198.94 L632.28,199.11 L633.28,199.28 L634.28,199.44 L635.28,199.61 L636.28,199.77 L637.28,199.92 L638.29,200.07 L639.29,200.22 L640.29,200.37 L641.29,200.51 L642.29,200.65 L643.29,200.79 L644.29,200.92 L645.29,201.06 L646.29,201.18 L647.30,201.31 L648.30,201.43 L649.30,201.55 L650.30,201.67 L651.30,201.79" stroke="#002EFF"/>
<path d="M389.89,54.03 L390.66,54.03 L391.44,54.03 L392.22,54.03 L393.01,54.03 L393.79,54.03 L394.58,54.03 L395.37,54.03 L396.16,54.03 L396.96,54.03 L397.75,54.03 L398.55,54.03 L399.35,54.03 L400.15,54.03 L400.95,54.03 L401.76,54.03 L402.56,54.03 L403.37,54.03 L404.18,54.03 L404.99,54.03 L405.80,54.03 L406.62,54.03 L407.43,54.03 L408.25,54.03 L409.06,54.03 L409.88,54.03 L410.70,54.03 L411.52,54.03 L412.34,54.03 L413.16,54.03 L413.98,54.03 L414.80,54.03 L415.62,54.03 L416.44,54.03 L417.27,54.03 L418.09,54.03 L418.91,54.03 L419.73,54.08 L420.56,54.14 L421.38,54.21 L422.20,54.27 L423.03,54.34 L423.85,54.42 L424.67,54.50 L425.49,54.58 L426.32,54.66 L427.14,54.75 L427.96,54.85 L428.78,54.94 L429.60,55.05 L430.42,55.15 L431.24,55.26 L432.05,55.37 L432.87,55.49 L433.68,55.61 L434.50,55.74 L435.31,55.87 L436.12,56.00 L436.93,56.14 L437.74,56.29 L438.55,56.43 L439.36,56.59 L440.16,56.74 L440.96,56.90 L441.77,57.07 L442.57,57.24 L443.36,57.42 L444.16,57.59 L444.95,57.78 L445.75,57.97 L446.54,58.16 L447.32,58.36 L448.11,58.57 L448.89,58.78 L449.67,58.99 L450.45,59.21 L451.23,59.43 L452.00,59.66 L452.77,59.90 L453.54,60.14 L454.31,60.38 L455.07,60.63 L455.83,60.89 L456.59,61.15 L457.34,61.41 L458.09,61.68 L458.84,61.96 L459.58,62.24 L460.33,62.53 L461.06,62.82 L461.80,63.12 L462.53,63.43 L463.26,63.74 L463.98,64.06 L464.70,64.38 L465.42,64.71 L466.13,65.04 L466.84,65.38 L467.54,65.73 L468.24,66.08 L468.94,66.44 L469.63,66.80 L470.32,67.17 L471.00,67.55 L471.68,67.93 L472.36,68.32 L473.03,68.71 L473.70,69.11 L474.36,69.52 L475.02,69.94 L475.67,70.36 L476.32,70.78 L476.96,71.22 L477.60,71.66 L478.23,72.10 L478.86,72.56 L479.48,73.02 L480.09,73.48 L480.71,73.96 L481.31,74.44 L481.92,74.92 L482.51,75.41 L483.10,75.91 L483.69,76.42 L484.27,76.93 L484.85,77.45 L485.42,77.97 L485.99,78.50 L486.56,79.03 L487.12,79.57 L487.67,80.12 L488.23,80.67 L488.77,81.23 L489.32,81.79 L489.86,82.35 L490.39,82.93 L490.92,83.50 L491.45,84.08 L491.98,84.67 L492.50,85.26 L493.01,85.86 L493.53,86.45 L494.04,87.06 L494.55,87.67 L495.05,88.28 L495.55,88.90 L496.05,89.52 L496.54,90.14 L497.04,90.77 L497.53,91.40 L498.01,92.03 L498.50,92.67 L498.98,93.32 L499.46,93.96 L499.93,94.61 L500.41,95.26 L500.88,95.91 L501.35,96.57 L501.81,97.23 L502.28,97.89 L502.74,98.56 L503.20,99.23 L503.66,99.90 L504.12,100.57 L504.58,101.25 L505.03,101.92 L505.48,102.60 L505.93,103.28 L506.38,103.96 L506.83,104.65 L507.28,105.33 L507.73,106.02 L508.17,106.71 L508.61,107.40 L509.06,108.09 L509.50,108.79 L509.94,109.48 L510.38,110.17 L510.82,110.87 L511.26,111.57 L511.70,112.26 L512.14,112.96 L512.58,113.66 L513.02,114.36 L513.45,115.05 L513.89,115.75 L514.33,116.45 L514.77,117.15 L515.20,117.85 L515.64,118.55 L516.08,119.25 L516.52,119.95 L516.95,120.65 L517.39,121.35 L517.83,122.04 L518.27,122.74 L518.71,123.44 L519.15,124.14 L519.59,124.83 L520.03,125.53 L520.47,126.22 L520.91,126.92 L521.35,127.61 L521.79,128.31 L522.24,129.00 L522.68,129.69 L523.13,130.38 L523.57,131.07 L524.02,131.76 L524.47,132.45 L524.91,133.13 L525.36,133.82 L525.81,134.50 L526.26,135.19 L526.72,135.87 L527.17,136.55 L527.62,137.23 L528.08,137.90 L528.53,138.58 L528.99,139.25 L529.45,139.93 L529.91,140.60 L530.38,141.26 L530.84,141.93 L531.30,142.60 L531.77,143.26 L532.24,143.92 L532.71,144.58 L533.18,145.24 L533.65,145.89 L534.13,146.54 L534.61,147.20 L535.08,147.84 L535.56,148.49 L536.05,149.13 L536.53,149.77 L537.02,150.41 L537.51,151.05 L538.00,151.68 L538.49,152.31 L538.98,152.94 L539.48,153.56 L539.98,154.19 L540.48,154.80 L540.99,155.42 L541.49,156.03 L542.00,156.64 L542.51,157.25 L543.02,157.85 L543.54,158.46 L544.06,159.05 L544.58,159.65 L545.10,160.24 L545.63,160.82 L546.16,161.41 L546.69,161.99 L547.23,162.56 L547.77,163.14 L548.31,163.71 L548.85,164.27 L549.40,164.83 L549.95,165.39 L550.50,165.95 L551.06,166.50 L551.61,167.04 L552.18,167.58 L552.74,168.12 L553.31,168.65 L553.88,169.18 L554.46,169.71 L555.04,170.23 L555.62,170.74 L556.21,171.26 L556.80,171.76 L557.39,172.27 L557.99,172.76 L558.59,173.26 L559.19,173.75 L559.80,174.23 L560.41,174.71 L561.03,175.18 L561.65,175.65 L562.27,176.12 L562.90,176.58 L563.53,177.03 L564.16,177.48 L564.80,177.92 L565.44,178.36 L566.09,178.79 L566.74,179.22 L567.40,179.64 L568.06,180.06 L568.73,180.47 L569.39,180.88 L570.07,181.28 L570.75,181.67 L571.43,182.06 L572.11,182.45 L572.81,182.82 L573.50,183.20 L574.20,183.56 L574.90,183.93 L575.61,184.28 L576.32,184.63 L577.03,184.98 L577.75,185.32 L578.47,185.66 L579.20,185.99 L579.93,186.32 L580.66,186.64 L581.39,186.96 L582.13,187.27 L582.88,187.58 L583.62,187.88 L584.37,188.18 L585.12,188.47 L585.87,188.76 L586.63,189.05 L587.39,189.33 L588.15,189.61 L588.92,189.88 L589.68,190.15 L590.45,190.42 L591.22,190.68 L592.00,190.94 L592.77,191.19 L593.55,191.44 L594.33,191.69 L595.12,191.93 L595.90,192.17 L596.69,192.41 L597.48,192.64 L598.27,192.87 L599.06,193.10 L599.85,193.32 L600.65,193.54 L601.44,193.75 L602.24,193.97 L603.04,194.18 L603.84,194.39 L604.64,194.59 L605.44,194.79 L606.24,194.99 L607.05,195.19 L607.85,195.38 L608.66,195.57 L609.47,195.76 L610.27,195.95 L611.08,196.13 L611.89,196.32 L612.70,196.50 L613.51,196.67 L614.31,196.85 L615.12,197.02 L615.93,197.19 L616.74,197.36 L617.55,197.53 L618.36,197.70 L619.17,197.86 L619.98,198.02 L620.79,198.18 L621.59,198.34 L622.40,198.50 L623.21,198.66 L624.02,198.81 L624.82,198.97 L625.63,199.12 L626.43,199.27 L627.23,199.42 L628.03,199.57 L628.84,199.72 L629.64,199.87 L630.43,200.01 L631.23,200.16 L632.03,200.30 L632.82,200.45 L633.62,200.59 L634.41,200.74 L635.20,200.88 L635.99,201.02 L636.77,201.16 L637.56,201.30 L638.34,201.45 L639.12,201.59 L639.90,201.73 L640.67,201.87 L641.45,202.01 L642.22,202.15 L642.99,202.29 L643.76,202.43 L644.52,202.58 L645.28,202.72 L646.04,202.86 L646.80,203.00 L647.55,203.15 L648.30,203.29 L649.05,203.43 L649.80,203.58 L650.54,203.73 L651.28,203.87" stroke="#5D00FF"/>
<path d="M390.00,50.15 L461.39,50.15 L462.19,50.15 L462.98,50.15 L463.77,50.15 L464.55,50.15 L465.32,50.15 L466.08,50.15 L466.84,50.15 L467.59,50.15 L468.33,50.15 L469.06,50.15 L469.78,50.15 L470.50,50.15 L471.21,50.15 L471.91,50.15 L472.61,50.15 L473.29,50.15 L473.97,50.15 L474.65,50.15 L475.31,50.15 L475.97,50.15 L476.62,50.15 L477.27,50.20 L477.90,50.35 L478.53,50.52 L479.16,50.70 L479.78,50.89 L480.39,51.09 L480.99,51.31 L481.59,51.54 L482.18,51.78 L482.76,52.04 L483.34,52.30 L483.92,52.58 L484.48,52.86 L485.04,53.16 L485.60,53.47 L486.14,53.79 L486.69,54.12 L487.22,54.46 L487.75,54.81 L488.28,55.17 L488.79,55.54 L489.31,55.91 L489.81,56.30 L490.32,56.70 L490.81,57.10 L491.30,57.51 L491.79,57.93 L492.27,58.36 L492.74,58.80 L493.21,59.24 L493.68,59.69 L494.14,60.15 L494.59,60.62 L495.04,61.09 L495.49,61.57 L495.93,62.05 L496.37,62.54 L496.80,63.04 L497.22,63.54 L497.64,64.05 L498.06,64.56 L498.47,65.07 L498.88,65.60 L499.29,66.12 L499.69,66.65 L500.08,67.19 L500.47,67.72 L500.86,68.27 L501.25,68.81 L501.62,69.36 L502.00,69.91 L502.37,70.46 L502.74,71.02 L503.11,71.58 L503.47,72.14 L503.82,72.70 L504.18,73.27 L504.53,73.84 L504.87,74.41 L505.22,74.98 L505.56,75.56 L505.90,76.14 L506.23,76.72 L506.56,77.30 L506.89,77.88 L507.21,78.47 L507.54,79.06 L507.86,79.65 L508.17,80.24 L508.49,80.83 L508.80,81.43 L509.11,82.03 L509.41,82.62 L509.72,83.22 L510.02,83.83 L510.32,84.43 L510.61,85.03 L510.91,85.64 L511.20,86.25 L511.49,86.86 L511.78,87.47 L512.07,88.08 L512.35,88.69 L512.63,89.30 L512.91,89.92 L513.19,90.53 L513.47,91.15 L513.75,91.77 L514.02,92.39 L514.29,93.00 L514.56,93.62 L514.83,94.24 L515.10,94.87 L515.37,95.49 L515.64,96.11 L515.90,96.73 L516.17,97.35 L516.43,97.98 L516.69,98.60 L516.95,99.23 L517.21,99.85 L517.47,100.48 L517.73,101.10 L517.99,101.72 L518.25,102.35 L518.51,102.97 L518.76,103.60 L519.02,104.22 L519.28,104.85 L519.53,105.47 L519.79,106.10 L520.05,106.72 L520.30,107.35 L520.56,107.97 L520.81,108.59 L521.07,109.21 L521.33,109.83 L521.58,110.46 L521.84,111.08 L522.10,111.70 L522.35,112.32 L522.61,112.93 L522.87,113.55 L523.13,114.17 L523.39,114.78 L523.65,115.40 L523.91,116.01 L524.17,116.62 L524.44,117.24 L524.70,117.85 L524.97,118.46 L525.23,119.06 L525.50,119.67 L525.77,120.28 L526.04,120.89 L526.30,121.49 L526.58,122.10 L526.85,122.70 L527.12,123.30 L527.39,123.91 L527.67,124.51 L527.94,125.11 L528.22,125.71 L528.50,126.31 L528.78,126.91 L529.06,127.51 L529.34,128.10 L529.63,128.70 L529.91,129.30 L530.20,129.89 L530.49,130.49 L530.77,131.08 L531.07,131.68 L531.36,132.27 L531.65,132.86 L531.95,133.46 L532.24,134.05 L532.54,134.64 L532.84,135.23 L533.14,135.83 L533.44,136.42 L533.75,137.01 L534.05,137.60 L534.36,138.19 L534.67,138.78 L534.98,139.37 L535.29,139.96 L535.61,140.55 L535.93,141.14 L536.24,141.73 L536.56,142.32 L536.89,142.90 L537.21,143.49 L537.54,144.08 L537.87,144.67 L538.20,145.26 L538.53,145.85 L538.86,146.43 L539.20,147.02 L539.54,147.61 L539.88,148.19 L540.22,148.78 L540.56,149.36 L540.91,149.94 L541.26,150.52 L541.61,151.11 L541.96,151.69 L542.32,152.26 L542.68,152.84 L543.04,153.42 L543.40,153.99 L543.77,154.57 L544.13,155.14 L544.50,155.71 L544.88,156.27 L545.25,156.84 L545.63,157.40 L546.01,157.97 L546.39,158.53 L546.78,159.08 L547.17,159.64 L547.56,160.19 L547.95,160.74 L548.35,161.29 L548.74,161.84 L549.15,162.38 L549.55,162.92 L549.96,163.46 L550.37,163.99 L550.78,164.52 L551.19,165.05 L551.61,165.58 L552.03,166.10 L552.46,166.62 L552.89,167.13 L553.32,167.65 L553.75,168.15 L554.19,168.66 L554.62,169.16 L555.07,169.66 L555.51,170.15 L555.96,170.64 L556.41,171.13 L556.87,171.61 L557.33,172.09 L557.79,172.56 L558.25,173.03 L558.72,173.49 L559.19,173.95 L559.67,174.41 L560.14,174.86 L560.62,175.30 L561.11,175.74 L561.60,176.18 L562.09,176.61 L562.58,177.04 L563.08,177.46 L563.58,177.88 L564.09,178.29 L564.60,178.70 L565.11,179.10 L565.62,179.50 L566.14,179.90 L566.66,180.29 L567.18,180.67 L567.71,181.06 L568.24,181.43 L568.77,181.81 L569.30,182.17 L569.84,182.54 L570.38,182.90 L570.92,183.25 L571.47,183.61 L572.02,183.95 L572.57,184.30 L573.13,184.64 L573.68,184.97 L574.24,185.30 L574.81,185.63 L575.37,185.95 L575.94,186.27 L576.51,186.59 L577.08,186.90 L577.66,187.21 L578.23,187.51 L578.81,187.81 L579.40,188.11 L579.98,188.40 L580.57,188.69 L581.16,188.98 L581.75,189.26 L582.34,189.54 L582.94,189.81 L583.53,190.09 L584.13,190.35 L584.74,190.62 L585.34,190.88 L585.95,191.14 L586.56,191.39 L587.17,191.64 L587.78,191.89 L588.39,192.14 L589.01,192.38 L589.62,192.62 L590.24,192.85 L590.87,193.08 L591.49,193.31 L592.11,193.54 L592.74,193.76 L593.37,193.98 L594.00,194.20 L594.63,194.41 L595.26,194.62 L595.90,194.83 L596.53,195.04 L597.17,195.24 L597.81,195.44 L598.45,195.64 L599.09,195.83 L599.73,196.02 L600.38,196.21 L601.02,196.40 L601.67,196.58 L602.32,196.76 L602.97,196.94 L603.62,197.12 L604.27,197.29 L604.92,197.47 L605.57,197.63 L606.23,197.80 L606.88,197.97 L607.54,198.13 L608.20,198.29 L608.86,198.45 L609.52,198.60 L610.18,198.76 L610.84,198.91 L611.50,199.06 L612.16,199.20 L612.83,199.35 L613.49,199.49 L614.15,199.63 L614.82,199.77 L615.49,199.91 L616.15,200.04 L616.82,200.18 L617.49,200.31 L618.16,200.44 L618.82,200.57 L619.49,200.69 L620.16,200.82 L620.83,200.94 L621.50,201.06 L622.17,201.18 L622.84,201.30 L623.52,201.42 L624.19,201.53 L624.86,201.65 L625.53,201.76 L626.20,201.87 L626.87,201.98 L627.54,202.09 L628.22,202.20 L628.89,202.30 L629.56,202.41 L630.23,202.51 L630.90,202.61 L631.58,202.71 L632.25,202.81 L632.92,202.91 L633.59,203.01 L634.26,203.11 L634.93,203.20 L635.60,203.30 L636.27,203.39 L636.94,203.49 L637.61,203.58 L638.28,203.67 L638.95,203.76 L639.61,203.85 L640.28,203.94 L640.95,204.03 L641.61,204.11 L642.28,204.20 L642.94,204.29 L643.61,204.37 L644.27,204.46 L644.93,204.54 L645.59,204.63 L646.26,204.71 L646.92,204.80 L647.57,204.88 L648.23,204.96 L648.89,205.05 L649.55,205.13 L650.20,205.21 L650.86,205.29 L651.51,205.37" stroke="#E800FF"/>
<path d="M390.00,50.15 L495.10,50.15 L495.88,54.93 L496.67,59.90 L497.45,64.65 L498.24,69.19 L499.02,73.54 L499.81,77.70 L500.59,81.69 L501.38,85.51 L502.16,89.18 L502.95,92.69 L503.73,96.06 L504.52,99.30 L505.30,102.41 L506.09,105.40 L506.87,108.27 L507.66,111.04 L508.44,113.70 L509.23,116.26 L510.01,118.73 L510.80,121.11 L511.58,123.40 L512.37,125.61 L513.15,127.75 L513.94,129.81 L514.72,131.80 L515.51,133.72 L516.29,135.58 L517.08,137.38 L517.86,139.12 L518.65,140.80 L519.43,142.43 L520.22,144.01 L521.00,145.54 L521.79,147.02 L522.57,148.46 L523.36,149.86 L524.14,151.21 L524.93,152.53 L525.71,153.80 L526.50,155.04 L527.28,156.25 L528.07,157.42 L528.85,158.56 L529.64,159.67 L530.42,160.75 L531.21,161.80 L531.99,162.82 L532.78,163.81 L533.56,164.78 L534.35,165.72 L535.13,166.64 L535.92,167.54 L536.70,168.41 L537.49,169.27 L538.27,170.10 L539.06,170.91 L539.84,171.70 L540.63,172.47 L541.41,173.23 L542.20,173.96 L542.98,174.68 L543.77,175.38 L544.55,176.07 L545.34,176.74 L546.12,177.39 L546.91,178.03 L547.69,178.65 L548.47,179.27 L549.26,179.86 L550.04,180.45 L550.83,181.02 L551.61,181.58 L552.40,182.12 L553.18,182.66 L553.97,183.18 L554.75,183.69 L555.54,184.19 L556.32,184.68 L557.11,185.16 L557.89,185.63 L558.68,186.09 L559.46,186.54 L560.25,186.98 L561.03,187.41 L561.82,187.83 L562.60,188.24 L563.39,188.65 L564.17,189.04 L564.96,189.43 L565.74,189.81 L566.53,190.19 L567.31,190.55 L568.10,190.91 L568.88,191.26 L569.67,191.60 L570.45,191.94 L571.24,192.27 L572.02,192.59 L572.81,192.90 L573.59,193.21 L574.38,193.52 L575.16,193.81 L575.95,194.11 L576.73,194.39 L577.52,194.67 L578.30,194.95 L579.09,195.21 L579.87,195.48 L580.66,195.74 L581.44,195.99 L582.23,196.24 L583.01,196.48 L583.80,196.72 L584.58,196.95 L585.37,197.18 L586.15,197.41 L586.94,197.63 L587.72,197.84 L588.51,198.06 L589.29,198.26 L590.08,198.47 L590.86,198.67 L591.65,198.86 L592.43,199.05 L593.22,199.24 L594.00,199.43 L594.79,199.61 L595.57,199.79 L596.36,199.96 L597.14,200.13 L597.93,200.30 L598.71,200.46 L599.49,200.62 L600.28,200.78 L601.06,200.93 L601.85,201.09 L602.63,201.23 L603.42,201.38 L604.20,201.52 L604.99,201.66 L605.77,201.80 L606.56,201.94 L607.34,202.07 L608.13,202.20 L608.91,202.32 L609.70,202.45 L610.48,202.57 L611.27,202.69 L612.05,202.81 L612.84,202.92 L613.62,203.04 L614.41,203.15 L615.19,203.26 L615.98,203.36 L616.76,203.47 L617.55,203.57 L618.33,203.67 L619.12,203.77 L619.90,203.87 L620.69,203.96 L621.47,204.05 L622.26,204.15 L623.04,204.24 L623.83,204.32 L624.61,204.41 L625.40,204.49 L626.18,204.58 L626.97,204.66 L627.75,204.74 L628.54,204.82 L629.32,204.89 L630.11,204.97 L630.89,205.04 L631.68,205.11 L632.46,205.18 L633.25,205.25 L634.03,205.32 L634.82,205.39 L635.60,205.45 L636.39,205.52 L637.17,205.58 L637.96,205.64 L638.74,205.70 L639.53,205.76 L640.31,205.82 L641.10,205.88 L641.88,205.93 L642.67,205.99 L643.45,206.04 L644.24,206.10 L645.02,206.15 L645.81,206.20 L646.59,206.25 L647.38,206.30 L648.16,206.35 L648.95,206.39 L649.73,206.44 L650.52,206.48 L651.30,206.53" stroke="#FF008B"/></g>
<g class="lg">
<line x1="531.1" y1="56.3" x2="550.4" y2="56.3" stroke="#FF0000"/>
<line x1="531.1" y1="69.4" x2="550.4" y2="69.4" stroke="#FF8B00"/>
<line x1="531.1" y1="82.5" x2="550.4" y2="82.5" stroke="#E8FF00"/>
<line x1="531.1" y1="95.6" x2="550.4" y2="95.6" stroke="#5DFF00"/>
<line x1="531.1" y1="108.7" x2="550.4" y2="108.7" stroke="#00FF2E"/>
<line x1="598.9" y1="56.3" x2="618.2" y2="56.3" stroke="#00FFB9"/>
<line x1="598.9" y1="69.4" x2="618.2" y2="69.4" stroke="#00B9FF"/>
<line x1="598.9" y1="82.5" x2="618.2" y2="82.5" stroke="#002EFF"/>
<line x1="598.9" y1="95.6" x2="618.2" y2="95.6" stroke="#5D00FF"/>
<line x1="598.9" y1="108.7" x2="618.2" y2="108.7" stroke="#E800FF"/>
<line x1="598.9" y1="121.8" x2="618.2" y2="121.8" stroke="#FF008B"/>
</g>
</g>
<g id="labels" style="opacity:0.999">
<text transform="translate(83.20,264.7) rotate(0.03)" font-size="21.1" text-anchor="middle">0</text>
<text transform="translate(120.10,264.7) rotate(0.03)" font-size="21.1" text-anchor="middle">1</text>
<text transform="translate(157.00,264.7) rotate(0.03)" font-size="21.1" text-anchor="middle">2</text>
<text transform="translate(193.90,264.7) rotate(0.03)" font-size="21.1" text-anchor="middle">3</text>
<text transform="translate(230.80,264.7) rotate(0.03)" font-size="21.1" text-anchor="middle">4</text>
<text transform="translate(267.70,264.7) rotate(0.03)" font-size="21.1" text-anchor="middle">5</text>
<text transform="translate(304.60,264.7) rotate(0.03)" font-size="21.1" text-anchor="middle">6</text>
<text transform="translate(341.50,264.7) rotate(0.03)" font-size="21.1" text-anchor="middle">7</text>
<text transform="translate(50.6,225.20) rotate(-89.97)" font-size="21.1" text-anchor="middle">0</text>
<text transform="translate(50.6,166.83) rotate(-89.97)" font-size="21.1" text-anchor="middle">5</text>
<text transform="translate(50.6,108.47) rotate(-89.97)" font-size="21.1" text-anchor="middle">10</text>
<text transform="translate(50.6,50.10) rotate(-89.97)" font-size="21.1" text-anchor="middle">15</text>
<text transform="translate(15.3,137.7) rotate(-89.97)" font-size="21.1" text-anchor="middle">Average market price</text>
<text transform="translate(214.3,301.3) rotate(0.03)" font-size="21.35" text-anchor="middle">Distance from the center</text>
<text transform="translate(77,36.4) rotate(0.03) scale(0.96,1)" font-size="38.9">A</text>
<text transform="translate(262.9,74) rotate(0.03)" font-size="17.4">Analytical</text>
<text transform="translate(262.9,94.5) rotate(0.03)" font-size="17.4">Simulation</text>
<text transform="translate(389.90,264.7) rotate(0.03)" font-size="21.1" text-anchor="middle">0</text>
<text transform="translate(431.95,264.7) rotate(0.03)" font-size="21.1" text-anchor="middle">1</text>
<text transform="translate(474.00,264.7) rotate(0.03)" font-size="21.1" text-anchor="middle">2</text>
<text transform="translate(516.05,264.7) rotate(0.03)" font-size="21.1" text-anchor="middle">3</text>
<text transform="translate(558.10,264.7) rotate(0.03)" font-size="21.1" text-anchor="middle">4</text>
<text transform="translate(600.15,264.7) rotate(0.03)" font-size="21.1" text-anchor="middle">5</text>
<text transform="translate(642.20,264.7) rotate(0.03)" font-size="21.1" text-anchor="middle">6</text>
<text transform="translate(521.1,301.3) rotate(0.03)" font-size="21.35" text-anchor="middle">Distance from the center</text>
<text transform="translate(379.9,36.4) rotate(0.03) scale(0.91,1)" font-size="38.9">B</text>
<text transform="translate(560.3,60.2) rotate(0.03)" font-size="10.8">β=0</text>
<text transform="translate(560.3,73.3) rotate(0.03)" font-size="10.8">β=0.1</text>
<text transform="translate(560.3,86.4) rotate(0.03)" font-size="10.8">β=0.2</text>
<text transform="translate(560.3,99.5) rotate(0.03)" font-size="10.8">β=0.3</text>
<text transform="translate(560.3,112.6) rotate(0.03)" font-size="10.8">β=0.4</text>
<text transform="translate(628.4,60.2) rotate(0.03)" font-size="10.8">β=0.5</text>
<text transform="translate(628.4,73.3) rotate(0.03)" font-size="10.8">β=0.6</text>
<text transform="translate(628.4,86.4) rotate(0.03)" font-size="10.8">β=0.7</text>
<text transform="translate(628.4,99.5) rotate(0.03)" font-size="10.8">β=0.8</text>
<text transform="translate(628.4,112.6) rotate(0.03)" font-size="10.8">β=0.9</text>
<text transform="translate(628.4,125.7) rotate(0.03)" font-size="10.8">β=1</text>
</g>
</svg></body></html>
